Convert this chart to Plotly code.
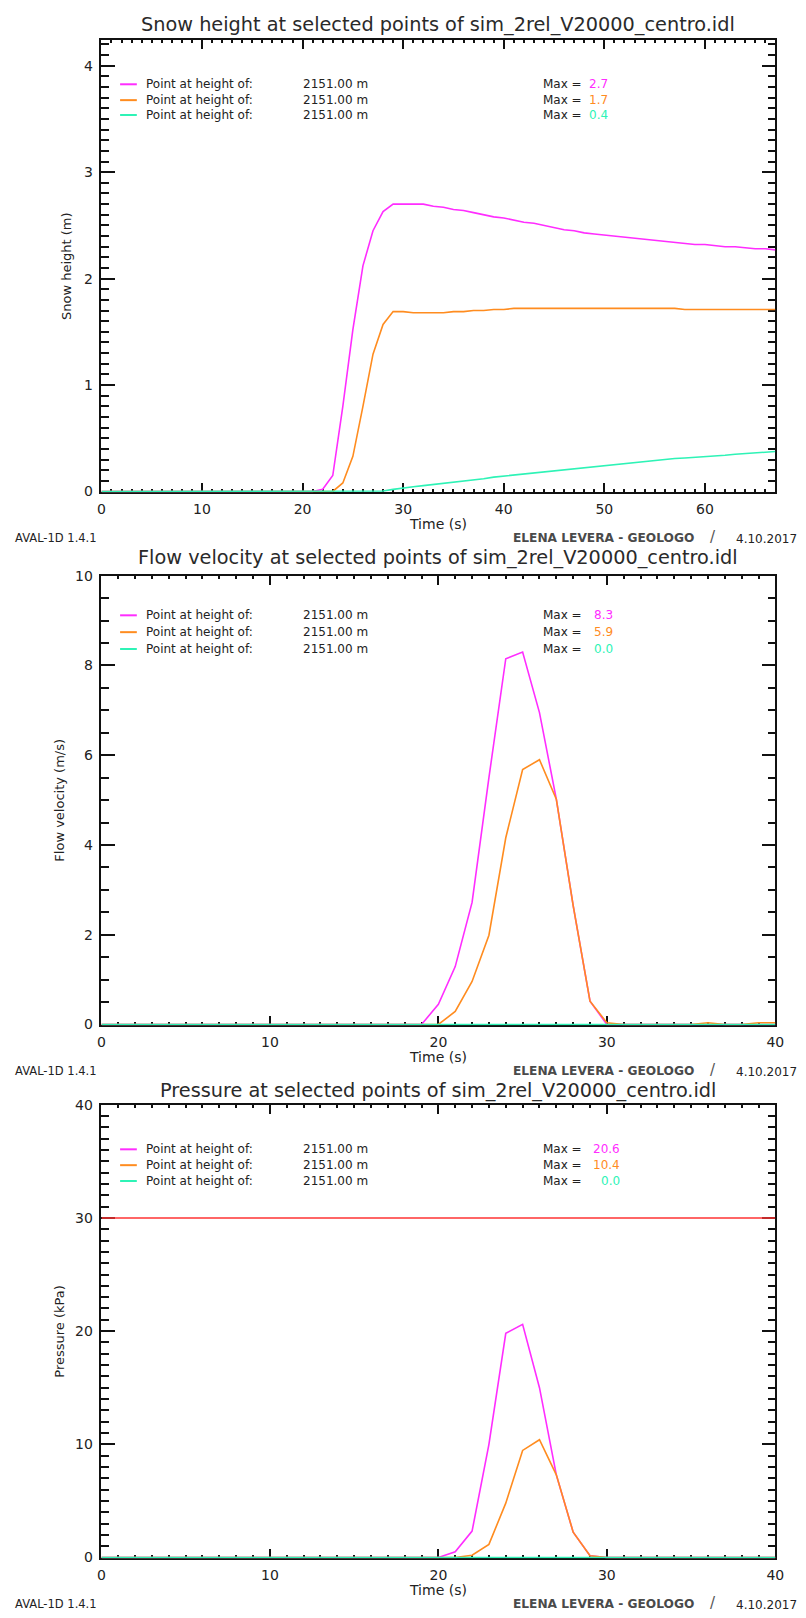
import plotly.graph_objects as go

# ---------------- data ----------------
# Snow height (m), time step 1 s, 0..67 s
t_height = list(range(0, 68))
height_p1 = [0.0] * 22 + [0.02, 0.15, 0.80, 1.52, 2.12, 2.45, 2.63, 2.70, 2.70, 2.70,
                          2.70, 2.68, 2.67, 2.65, 2.64, 2.62, 2.60, 2.58, 2.57, 2.55,
                          2.53, 2.52, 2.50, 2.48, 2.46, 2.45, 2.43, 2.42, 2.41, 2.40,
                          2.39, 2.38, 2.37, 2.36, 2.35, 2.34, 2.33, 2.32, 2.32, 2.31,
                          2.30, 2.30, 2.29, 2.28, 2.28, 2.27]
height_p2 = [0.0] * 24 + [0.08, 0.33, 0.80, 1.29, 1.57, 1.69, 1.69, 1.68, 1.68, 1.68,
                          1.68, 1.69, 1.69, 1.70, 1.70, 1.71, 1.71, 1.72, 1.72, 1.72,
                          1.72, 1.72, 1.72, 1.72, 1.72, 1.72, 1.72, 1.72, 1.72, 1.72,
                          1.72, 1.72, 1.72, 1.72, 1.71, 1.71, 1.71, 1.71, 1.71, 1.71,
                          1.71, 1.71, 1.71, 1.71]
height_p3 = [0.0] * 28 + [0.005, 0.02, 0.035, 0.045, 0.055, 0.065, 0.08, 0.09, 0.10, 0.11,
                          0.12, 0.135, 0.145, 0.155, 0.165, 0.17, 0.18, 0.19, 0.20, 0.21,
                          0.22, 0.235, 0.245, 0.255, 0.265, 0.275, 0.285, 0.29, 0.30, 0.31,
                          0.315, 0.32, 0.33, 0.335, 0.34, 0.35, 0.355, 0.36, 0.37, 0.375]

# Flow velocity (m/s) and pressure (kPa), time step 1 s, 0..40 s
t_flow = list(range(0, 41))
velocity_p1 = [0.0] * 20 + [0.45, 1.29, 2.72, 5.50, 8.15, 8.30, 6.95, 5.02, 2.65, 0.52,
                            0.0, 0.0, 0.0, 0.0, 0.0, 0.0, 0.0, 0.0, 0.0, 0.0, 0.0]
velocity_p2 = [0.0] * 21 + [0.29, 0.96, 1.99, 4.16, 5.68, 5.90, 5.02, 2.65, 0.52, 0.04,
                            0.0, 0.0, 0.0, 0.0, 0.0, 0.04, 0.0, 0.0, 0.04, 0.04]
velocity_p3 = [0.0] * 41

pressure_p1 = [0.0] * 21 + [0.5, 2.33, 10.0, 19.8, 20.6, 15.0, 7.3, 2.24, 0.15, 0.0,
                            0.0, 0.0, 0.0, 0.0, 0.0, 0.0, 0.0, 0.0, 0.0, 0.0]
pressure_p2 = [0.0] * 22 + [0.2, 1.16, 4.8, 9.46, 10.4, 7.3, 2.24, 0.15, 0.0,
                            0.0, 0.0, 0.0, 0.0, 0.0, 0.0, 0.0, 0.0, 0.0, 0.0]
pressure_p3 = [0.0] * 41

pressure_limit = 30.0
limit_x = [0, 40]

point_heights = ["2151.00 m", "2151.00 m", "2151.00 m"]
max_height = ["2.7", "1.7", "0.4"]
max_velocity = ["8.3", "5.9", "0.0"]
max_pressure = ["20.6", "10.4", "0.0"]

COLORS = ["#ff2dff", "#ff8c1f", "#2ef3b6"]
LIMIT_COLOR = "#ff3333"

W, H = 806, 1618
AX_L, AX_R = 99, 784
# panel pixel extents (top, bottom)
PANELS = [(32, 489), (573, 1027), (1107, 1565)]


def px(x):
    return x / W


def py(y):
    return 1 - y / H


def lower_pad(top_val, panel, pad_px=1.0):
    # small negative lower limit so zero-valued curves are not clipped by the frame
    top, bot = panel
    return -top_val * pad_px / (bot - top - pad_px)


fig = go.Figure()

series = [
    ("x", "y", t_height, [height_p1, height_p2, height_p3]),
    ("x2", "y2", t_flow, [velocity_p1, velocity_p2, velocity_p3]),
    ("x3", "y3", t_flow, [pressure_p1, pressure_p2, pressure_p3]),
]
for xa, ya, tt, ys in series:
    for col, yy in zip(COLORS, ys):
        fig.add_trace(go.Scatter(x=tt, y=yy, mode="lines", xaxis=xa, yaxis=ya,
                                 line=dict(color=col, width=1.6), showlegend=False,
                                 hoverinfo="skip"))

fig.add_trace(go.Scatter(x=limit_x, y=[pressure_limit] * 2, mode="lines", xaxis="x3",
                         yaxis="y3", line=dict(color=LIMIT_COLOR, width=1.5),
                         showlegend=False, hoverinfo="skip"))

TICKFONT = dict(family="DejaVu Sans", size=14, color="#222")
AXCOL = "#111"


def xaxis_cfg(rng, anchor, dtick=10, minor=1):
    return dict(range=rng, domain=[px(AX_L), px(AX_R)], anchor=anchor,
                showgrid=False, zeroline=False, showline=True, linecolor=AXCOL,
                linewidth=1.5, mirror="ticks", ticks="inside", ticklen=10,
                tickwidth=1.5, tickcolor=AXCOL, dtick=dtick, tick0=0,
                tickfont=TICKFONT, ticklabelstandoff=3, layer="below traces",
                minor=dict(dtick=minor, tick0=0, ticks="inside", ticklen=4,
                           tickwidth=1.5, tickcolor=AXCOL, showgrid=False))


def yaxis_cfg(top_val, anchor, panel, dtick, minor):
    top, bot = panel
    return dict(range=[lower_pad(top_val, panel), top_val], domain=[py(bot), py(top)],
                anchor=anchor, showgrid=False, zeroline=False, showline=True,
                linecolor=AXCOL, linewidth=1.5, mirror="ticks", ticks="inside",
                ticklen=14, tickwidth=1.5, tickcolor=AXCOL, dtick=dtick, tick0=0,
                tickfont=TICKFONT, ticklabelstandoff=4, layer="below traces",
                minor=dict(dtick=minor, tick0=0, ticks="inside", ticklen=8,
                           tickwidth=1.5, tickcolor=AXCOL, showgrid=False))


fig.update_layout(
    width=W, height=H, autosize=False,
    margin=dict(l=0, r=0, t=0, b=0),
    paper_bgcolor="white", plot_bgcolor="white",
    xaxis=xaxis_cfg([0, 67], "y"),
    yaxis=yaxis_cfg(4.245, "x", PANELS[0], 1, 0.1),
    xaxis2=xaxis_cfg([0, 40], "y2"),
    yaxis2=yaxis_cfg(10, "x2", PANELS[1], 2, 0.5),
    xaxis3=xaxis_cfg([0, 40], "y3"),
    yaxis3=yaxis_cfg(40, "x3", PANELS[2], 10, 1),
)

titles = [
    "Snow height at selected points of sim_2rel_V20000_centro.idl",
    "Flow velocity at selected points of sim_2rel_V20000_centro.idl",
    "Pressure at selected points of sim_2rel_V20000_centro.idl",
]
ytitles = ["Snow height (m)", "Flow velocity (m/s)", "Pressure (kPa)"]
ytitle_x = [63, 57, 57]
title_y = [17, 555, 1093]
legend_rows = [(77, 93, 108), (613, 630, 647), (1152, 1168, 1184)]
max_lists = [max_height, max_velocity, max_pressure]
TXT = "#222"

ann = []
shapes = []
for i, (top, bot) in enumerate(PANELS):
    cx = (AX_L + AX_R) / 2
    ann.append(dict(text=titles[i], x=px(cx), y=py(title_y[i]), xref="paper", yref="paper",
                    showarrow=False, xanchor="center", yanchor="middle",
                    font=dict(family="DejaVu Sans", size=19.3, color="#2a2a2a")))
    ann.append(dict(text=ytitles[i], x=px(ytitle_x[i]), y=py((top + bot) / 2), xref="paper",
                    yref="paper", showarrow=False, textangle=-90, xanchor="center",
                    yanchor="middle", font=dict(family="DejaVu Sans", size=13, color=TXT)))
    ann.append(dict(text="Time (s)", x=px(cx), y=py(bot + 32), xref="paper", yref="paper",
                    showarrow=False, xanchor="center", yanchor="middle",
                    font=dict(family="DejaVu Sans", size=14, color=TXT)))
    ann.append(dict(text="AVAL-1D 1.4.1", x=px(9), y=py(bot + 46), xref="paper", yref="paper",
                    showarrow=False, xanchor="left", yanchor="middle",
                    font=dict(family="DejaVu Sans", size=11.5, color=TXT)))
    ann.append(dict(text="<b>ELENA LEVERA - GEOLOGO</b>", x=px(515), y=py(bot + 46),
                    xref="paper", yref="paper", showarrow=False, xanchor="left",
                    yanchor="middle",
                    font=dict(family="DejaVu Sans", size=12.2, color="#4a4a4a")))
    ann.append(dict(text="/", x=px(721), y=py(bot + 45), xref="paper", yref="paper",
                    showarrow=False, xanchor="center", yanchor="middle",
                    font=dict(family="DejaVu Sans", size=15, color="#555")))
    ann.append(dict(text="4.10.2017", x=px(742), y=py(bot + 47), xref="paper", yref="paper",
                    showarrow=False, xanchor="left", yanchor="middle",
                    font=dict(family="DejaVu Sans", size=12, color=TXT)))
    for j, ry in enumerate(legend_rows[i]):
        shapes.append(dict(type="line", xref="paper", yref="paper", x0=px(118), x1=px(135),
                           y0=py(ry), y1=py(ry), line=dict(color=COLORS[j], width=2)))
        ann.append(dict(text="Point at height of:", x=px(142), y=py(ry), xref="paper",
                        yref="paper", showarrow=False, xanchor="left", yanchor="middle",
                        font=dict(family="DejaVu Sans", size=12, color=TXT)))
        ann.append(dict(text=point_heights[j], x=px(302), y=py(ry), xref="paper",
                        yref="paper", showarrow=False, xanchor="left", yanchor="middle",
                        font=dict(family="DejaVu Sans", size=12, color=TXT)))
        ann.append(dict(text="Max =", x=px(546), y=py(ry), xref="paper",
                        yref="paper", showarrow=False, xanchor="left", yanchor="middle",
                        font=dict(family="DejaVu Sans", size=12, color=TXT)))
        val_x = [616, 621, 628][i]
        ann.append(dict(text=max_lists[i][j], x=px(val_x), y=py(ry), xref="paper",
                        yref="paper", showarrow=False, xanchor="right", yanchor="middle",
                        font=dict(family="DejaVu Sans", size=12, color=COLORS[j])))

fig.update_layout(annotations=ann, shapes=shapes)

fig.write_html("out.html")
